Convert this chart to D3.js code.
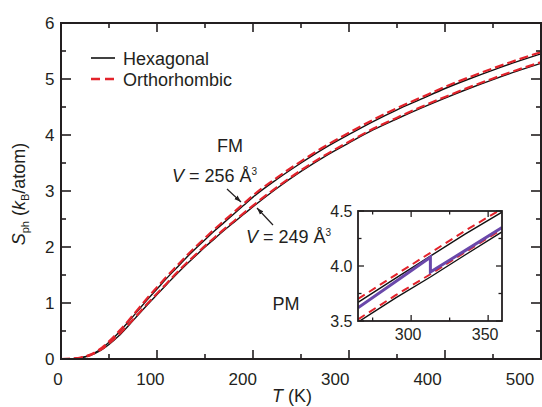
<!DOCTYPE html>
<html><head><meta charset="utf-8">
<script src="https://cdn.jsdelivr.net/npm/d3@7"></script>
<style>
body{margin:0;background:#fff}
svg{display:block}
text{font-family:"Liberation Sans",Arial,Helvetica,sans-serif;fill:#231f20}
</style>
</head><body>
<svg id="c" width="542" height="407"></svg>
<script>
// ---- main panel data (T in K, S_ph in kB/atom) ----
const T = [0, 10, 15, 20, 30, 40, 50, 60, 70, 80, 90, 100, 110, 120, 130, 140, 150, 160, 170, 180, 190, 200, 225, 250, 275, 300, 325, 350, 375, 400, 425, 450, 475, 500];
const hex256  = [0, 0.003, 0.009, 0.021, 0.07, 0.16, 0.30, 0.47, 0.66, 0.86, 1.06, 1.25, 1.44, 1.62, 1.80, 1.97, 2.13, 2.29, 2.44, 2.59, 2.74, 2.89, 3.21, 3.50, 3.77, 4.01, 4.24, 4.45, 4.64, 4.83, 5.00, 5.16, 5.31, 5.45];
const orth256 = [0, 0.003, 0.010, 0.023, 0.075, 0.17, 0.315, 0.49, 0.68, 0.885, 1.09, 1.28, 1.47, 1.65, 1.83, 2.00, 2.16, 2.32, 2.47, 2.62, 2.77, 2.92, 3.24, 3.53, 3.80, 4.04, 4.27, 4.48, 4.67, 4.86, 5.03, 5.19, 5.34, 5.48];
const hex249  = [0, 0.002, 0.008, 0.018, 0.06, 0.14, 0.26, 0.41, 0.59, 0.78, 0.97, 1.15, 1.33, 1.51, 1.68, 1.84, 2.00, 2.15, 2.30, 2.44, 2.58, 2.72, 3.05, 3.35, 3.62, 3.86, 4.09, 4.29, 4.48, 4.66, 4.83, 4.99, 5.14, 5.28];
const orth249 = [0, 0.002, 0.009, 0.020, 0.065, 0.15, 0.275, 0.43, 0.61, 0.80, 0.99, 1.17, 1.35, 1.53, 1.70, 1.86, 2.02, 2.17, 2.32, 2.46, 2.60, 2.74, 3.07, 3.37, 3.64, 3.88, 4.11, 4.31, 4.50, 4.68, 4.85, 5.01, 5.16, 5.30];
const xMajor = [0, 100, 200, 300, 400, 500];
const xMinor = [50, 150, 250, 350, 450];
const yMajor = [0, 1, 2, 3, 4, 5, 6];
const yMinor = [0.5, 1.5, 2.5, 3.5, 4.5, 5.5];
const legendLabels = ["Hexagonal", "Orthorhombic"];

// ---- inset data ----
const insetT = [265.5, 290, 312.5, 335, 359];
const insetHex256  = [3.67, 3.89, 4.09, 4.29, 4.49];
const insetOrth256 = [3.70, 3.92, 4.12, 4.32, 4.52];
const insetHex249  = [3.49, 3.71, 3.90, 4.10, 4.31];
const insetOrth249 = [3.515, 3.735, 3.925, 4.125, 4.335];
const mixedT = [265.5, 290, 312.5, 312.5, 335, 359];
const mixedS = [3.62, 3.86, 4.08, 3.945, 4.14, 4.35];
const insetXMajor = [300, 350], insetXMinor = [275, 325];
const insetYMajor = [3.5, 4.0, 4.5], insetYMinor = [3.75, 4.25];

const RED = "#e3232b", BLACK = "#111", PURPLE = "#6a48aa", INK = "#231f20";

const svg = d3.select("#c");
const x = d3.scaleLinear().domain([0, 500]).range([61, 541]);
const xl = d3.scaleLinear().domain([0, 500]).range([58, 520]); // label placement as in reference
const y = d3.scaleLinear().domain([0, 6]).range([359, 23]);

const defs = svg.append("defs");
defs.append("clipPath").attr("id", "mainclip").append("rect")
  .attr("x", x(0)).attr("y", y(6)).attr("width", x(500) - x(0)).attr("height", y(0) - y(6));
defs.append("marker").attr("id", "arr").attr("viewBox", "0 0 10 10")
  .attr("refX", 10).attr("refY", 5).attr("markerWidth", 7).attr("markerHeight", 7)
  .attr("markerUnits", "userSpaceOnUse").attr("orient", "auto")
  .append("path").attr("d", "M0,1.5 L10,5 L0,8.5 Z").attr("fill", INK);

const line = d3.line().x(d => x(d[0])).y(d => y(d[1])).curve(d3.curveMonotoneX);
const g = svg.append("g").attr("clip-path", "url(#mainclip)");
function drawMain(vals, color, dashed) {
  g.append("path").datum(T.map((t, i) => [t, vals[i]]))
    .attr("d", line).attr("fill", "none").attr("stroke", color)
    .attr("stroke-width", dashed ? 2.2 : 1.4)
    .attr("stroke-dasharray", dashed ? "9,4" : null);
}
drawMain(hex256, BLACK, false);
drawMain(hex249, BLACK, false);
drawMain(orth256, RED, true);
drawMain(orth249, RED, true);

// frame & ticks
const fr = svg.append("g").attr("stroke", INK).attr("fill", "none");
fr.append("rect").attr("x", x(0)).attr("y", y(6)).attr("width", x(500) - x(0)).attr("height", y(0) - y(6)).attr("stroke-width", 2);
function xt(vals, len) {
  vals.forEach(v => {
    fr.append("line").attr("x1", x(v)).attr("x2", x(v)).attr("y1", y(0)).attr("y2", y(0) - len).attr("stroke-width", 1.6);
    fr.append("line").attr("x1", x(v)).attr("x2", x(v)).attr("y1", y(6)).attr("y2", y(6) + len).attr("stroke-width", 1.6);
  });
}
function yt(vals, len) {
  vals.forEach(v => {
    fr.append("line").attr("x1", x(0)).attr("x2", x(0) + len).attr("y1", y(v)).attr("y2", y(v)).attr("stroke-width", 1.6);
    fr.append("line").attr("x1", x(500)).attr("x2", x(500) - len).attr("y1", y(v)).attr("y2", y(v)).attr("stroke-width", 1.6);
  });
}
xt(xMajor, 9); xt(xMinor, 5); yt(yMajor, 10); yt(yMinor, 5);

svg.append("g").selectAll("text").data(xMajor).join("text")
  .attr("x", d => xl(d)).attr("y", 384.5).attr("text-anchor", "middle")
  .attr("font-size", 17).text(d => d);
svg.append("g").selectAll("text").data(yMajor).join("text")
  .attr("x", 54.5).attr("y", d => y(d)).attr("dy", "0.36em").attr("text-anchor", "end")
  .attr("font-size", 17).text(d => d);

// axis titles
const xt_ = svg.append("text").attr("x", 292).attr("y", 402).attr("text-anchor", "middle").attr("font-size", 18);
xt_.append("tspan").attr("font-style", "italic").text("T");
xt_.append("tspan").text(" (K)");
const yt_ = svg.append("text").attr("transform", "translate(25,194) rotate(-90)").attr("text-anchor", "middle").attr("font-size", 18);
yt_.append("tspan").attr("font-style", "italic").text("S");
yt_.append("tspan").attr("font-size", 11).attr("dy", 4).text("ph");
yt_.append("tspan").attr("dy", -4).text(" (");
yt_.append("tspan").attr("font-style", "italic").text("k");
yt_.append("tspan").attr("font-size", 11).attr("dy", 4).text("B");
yt_.append("tspan").attr("dy", -4).text("/atom)");

// legend
const leg = svg.append("g");
leg.append("line").attr("x1", 91).attr("x2", 115).attr("y1", 58).attr("y2", 58).attr("stroke", BLACK).attr("stroke-width", 1.6);
leg.append("line").attr("x1", 91).attr("x2", 115).attr("y1", 79).attr("y2", 79).attr("stroke", RED).attr("stroke-width", 2.4).attr("stroke-dasharray", "9,5");
leg.append("text").attr("x", 123).attr("y", 64.6).attr("font-size", 18).text(legendLabels[0]);
leg.append("text").attr("x", 123).attr("y", 85.6).attr("font-size", 18).text(legendLabels[1]);

// annotations
svg.append("text").attr("x", 230).attr("y", 152).attr("text-anchor", "middle").attr("font-size", 18).text("FM");
svg.append("text").attr("x", 286).attr("y", 310).attr("text-anchor", "middle").attr("font-size", 18).text("PM");
function vlabel(xx, yy, num) {
  const t = svg.append("text").attr("x", xx).attr("y", yy).attr("font-size", 18);
  t.append("tspan").attr("font-style", "italic").text("V");
  t.append("tspan").text(" = " + num + " Å");
  t.append("tspan").attr("font-size", 10).attr("dy", -7).text("3");
}
vlabel(172, 182, 256);
vlabel(246, 243, 249);
svg.append("line").attr("x1", 227).attr("y1", 189).attr("x2", 241).attr("y2", 202)
  .attr("stroke", INK).attr("stroke-width", 1.2).attr("marker-end", "url(#arr)");
svg.append("line").attr("x1", 273).attr("y1", 225).attr("x2", 257).attr("y2", 208)
  .attr("stroke", INK).attr("stroke-width", 1.2).attr("marker-end", "url(#arr)");

// ---- inset ----
const xi = d3.scaleLinear().domain([265.5, 359]).range([358, 502]);
const yi = d3.scaleLinear().domain([3.5, 4.5]).range([321, 211]);
defs.append("clipPath").attr("id", "insetclip").append("rect")
  .attr("x", xi(265.5)).attr("y", yi(4.5)).attr("width", xi(359) - xi(265.5)).attr("height", yi(3.5) - yi(4.5));
svg.append("rect").attr("x", xi(265.5)).attr("y", yi(4.5)).attr("width", xi(359) - xi(265.5)).attr("height", yi(3.5) - yi(4.5)).attr("fill", "#fff");
const gi = svg.append("g").attr("clip-path", "url(#insetclip)");
const lineI = d3.line().x(d => xi(d[0])).y(d => yi(d[1]));
function drawIn(tt, vals, color, w, dash) {
  gi.append("path").datum(tt.map((t, i) => [t, vals[i]]))
    .attr("d", lineI).attr("fill", "none").attr("stroke", color)
    .attr("stroke-width", w).attr("stroke-dasharray", dash);
}
drawIn(insetT, insetHex256, BLACK, 1.4, null);
drawIn(insetT, insetHex249, BLACK, 1.4, null);
drawIn(insetT, insetOrth256, RED, 2, "8,5");
drawIn(insetT, insetOrth249, RED, 2, "8,5");
drawIn(mixedT, mixedS, PURPLE, 3, null);

const fi = svg.append("g").attr("stroke", INK).attr("fill", "none");
fi.append("rect").attr("x", xi(265.5)).attr("y", yi(4.5)).attr("width", xi(359) - xi(265.5)).attr("height", yi(3.5) - yi(4.5)).attr("stroke-width", 1.8);
function xti(vals, len) {
  vals.forEach(v => {
    fi.append("line").attr("x1", xi(v)).attr("x2", xi(v)).attr("y1", yi(3.5)).attr("y2", yi(3.5) - len).attr("stroke-width", 1.3);
    fi.append("line").attr("x1", xi(v)).attr("x2", xi(v)).attr("y1", yi(4.5)).attr("y2", yi(4.5) + len).attr("stroke-width", 1.3);
  });
}
function yti(vals, len) {
  vals.forEach(v => {
    fi.append("line").attr("x1", xi(265.5)).attr("x2", xi(265.5) + len).attr("y1", yi(v)).attr("y2", yi(v)).attr("stroke-width", 1.3);
    fi.append("line").attr("x1", xi(359)).attr("x2", xi(359) - len).attr("y1", yi(v)).attr("y2", yi(v)).attr("stroke-width", 1.3);
  });
}
xti(insetXMajor, 6); xti(insetXMinor, 3.5); yti(insetYMajor, 6); yti(insetYMinor, 3.5);
svg.append("g").selectAll("text").data(insetXMajor).join("text")
  .attr("x", d => xi(d) - 3).attr("y", 340).attr("text-anchor", "middle").attr("font-size", 16).text(d => d);
svg.append("g").selectAll("text").data(insetYMajor).join("text")
  .attr("x", 352.5).attr("y", d => yi(d)).attr("dy", "0.36em").attr("text-anchor", "end")
  .attr("font-size", 16).text(d => d.toFixed(1));
</script>
</body></html>
